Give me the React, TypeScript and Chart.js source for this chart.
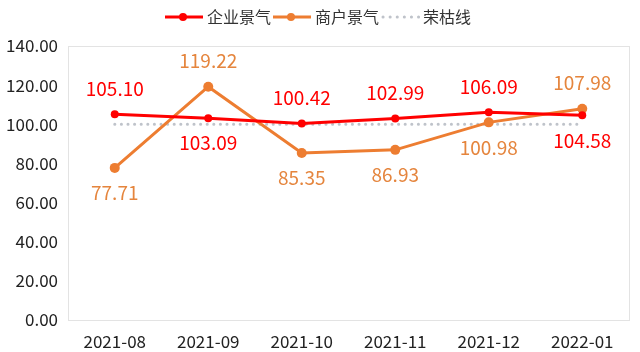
import React, { useEffect, useRef } from "react";
import { Chart, registerables } from "chart.js";
Chart.register(...registerables);

const categories = ["2021-08", "2021-09", "2021-10", "2021-11", "2021-12", "2022-01"];
const enterprise = [105.1, 103.09, 100.42, 102.99, 106.09, 104.58];
const merchant = [77.71, 119.22, 85.35, 86.93, 100.98, 107.98];
const threshold = [100, 100, 100, 100, 100, 100];
const enterpriseLabelPos = ["above", "below", "above", "above", "above", "below"];
const merchantLabelPos = ["below", "above", "below", "below", "below", "above"];

const FONT = "'Noto Sans CJK SC', 'DejaVu Sans', sans-serif";

const labelPlugin = {
  id: "valueLabels",
  afterDatasetsDraw(chart: any) {
    const ctx = chart.ctx;
    ctx.save();
    ctx.font = `19px ${FONT}`;
    ctx.textAlign = "center";
    ctx.textBaseline = "middle";
    const sets = [
      { idx: 0, pos: enterpriseLabelPos, color: "#ff0000", data: enterprise },
      { idx: 1, pos: merchantLabelPos, color: "#e5853d", data: merchant },
    ];
    sets.forEach((s) => {
      const meta = chart.getDatasetMeta(s.idx);
      meta.data.forEach((pt: any, i: number) => {
        const dy = s.pos[i] === "above" ? -26 : 25;
        ctx.fillStyle = s.color;
        ctx.fillText(s.data[i].toFixed(2), pt.x, pt.y + dy);
      });
    });
    ctx.restore();
  },
};

const framePlugin = {
  id: "frame",
  beforeDatasetsDraw(chart: any) {
    const { ctx, chartArea } = chart;
    ctx.save();
    ctx.strokeStyle = "#e3e3e3";
    ctx.lineWidth = 1;
    ctx.strokeRect(chartArea.left + 0.5, chartArea.top + 0.5, chartArea.right - chartArea.left, chartArea.bottom - chartArea.top);
    ctx.restore();
  },
};

const legendPlugin = {
  id: "customLegend",
  afterDraw(chart: any) {
    const ctx = chart.ctx;
    ctx.save();
    const y = 17;
    ctx.font = `16px ${FONT}`;
    ctx.textBaseline = "middle";
    ctx.textAlign = "left";
    const items = [
      { x: 165, color: "#ff0000", text: "企业景气", kind: "line" },
      { x: 273, color: "#ed7d31", text: "商户景气", kind: "line" },
      { x: 381, color: "#bfc3ca", text: "荣枯线", kind: "dot" },
    ];
    items.forEach((it) => {
      if (it.kind === "line") {
        ctx.strokeStyle = it.color;
        ctx.lineWidth = 3;
        ctx.setLineDash([]);
        ctx.beginPath();
        ctx.moveTo(it.x, y);
        ctx.lineTo(it.x + 38, y);
        ctx.stroke();
        ctx.fillStyle = it.color;
        ctx.beginPath();
        ctx.arc(it.x + 18, y, 4, 0, Math.PI * 2);
        ctx.fill();
      } else {
        ctx.strokeStyle = it.color;
        ctx.lineWidth = 3;
        ctx.lineCap = "round";
        ctx.setLineDash([0.1, 7]);
        ctx.beginPath();
        ctx.moveTo(it.x + 2, y);
        ctx.lineTo(it.x + 38, y);
        ctx.stroke();
        ctx.setLineDash([]);
      }
      ctx.fillStyle = "#333333";
      ctx.fillText(it.text, it.x + 42, y);
    });
    ctx.restore();
  },
};

export default function App() {
  const ref = useRef<HTMLCanvasElement>(null);
  useEffect(() => {
    document.body.style.margin = "0";
    const chart = new Chart(ref.current!, {
      type: "line",
      data: {
        labels: categories,
        datasets: [
          {
            label: "企业景气",
            data: enterprise,
            borderColor: "#ff0000",
            backgroundColor: "#ff0000",
            borderWidth: 3,
            pointRadius: 4,
            pointBorderWidth: 0,
            order: 1,
          },
          {
            label: "商户景气",
            data: merchant,
            borderColor: "#ed7d31",
            backgroundColor: "#ed7d31",
            borderWidth: 3,
            pointRadius: 5,
            pointBorderWidth: 0,
            order: 2,
          },
          {
            label: "荣枯线",
            data: threshold,
            borderColor: "#bfc3ca",
            borderWidth: 3,
            borderDash: [0.1, 6.5],
            borderCapStyle: "round",
            pointRadius: 0,
            order: 3,
          },
        ],
      },
      options: {
        animation: false,
        responsive: true,
        maintainAspectRatio: false,
        layout: { padding: { top: 46, right: 11, left: 6, bottom: 0 } },
        plugins: { legend: { display: false }, tooltip: { enabled: false } },
        scales: {
          x: {
            offset: true,
            grid: { display: false, drawTicks: false },
            border: { display: false },
            ticks: { color: "#222222", font: { size: 17, family: FONT }, padding: 11, maxRotation: 0 },
            afterFit: (s: any) => {
              s.height = 32;
            },
          },
          y: {
            min: 0,
            max: 140,
            grid: { display: false, drawTicks: false },
            border: { display: false },
            ticks: {
              stepSize: 20,
              color: "#222222",
              font: { size: 17, family: FONT },
              padding: 10,
              callback: (v: any) => Number(v).toFixed(2),
            },
            afterFit: (s: any) => {
              s.width = 62;
            },
          },
        },
      },
      plugins: [framePlugin, labelPlugin, legendPlugin],
    });
    return () => chart.destroy();
  }, []);
  return (
    <div style={{ width: 640, height: 352, position: "relative" }}>
      <canvas ref={ref} />
    </div>
  );
}
